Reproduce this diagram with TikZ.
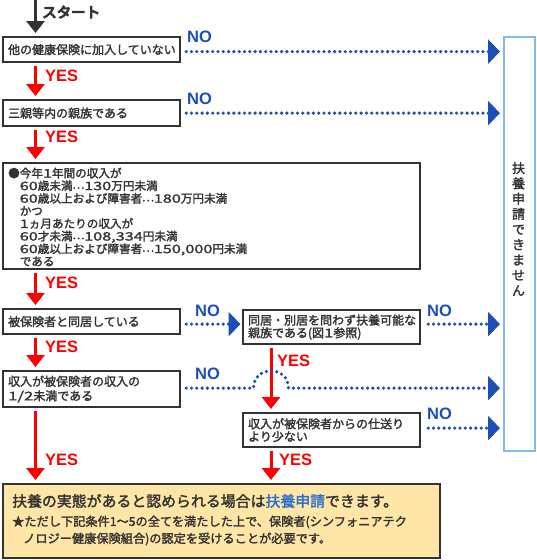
\documentclass[tikz,border=0pt]{standalone}
\usepackage{fontspec}
\setmainfont{Noto Sans CJK JP}[FakeBold=2]
\newfontfamily\jpb{Noto Sans CJK JP}[FakeBold=7]
\newfontfamily\jpdig{Noto Sans CJK JP}[FakeBold=1.5,FakeStretch=1.4]
\newfontfamily\yn{Liberation Sans}
\usetikzlibrary{arrows.meta}
\definecolor{txt}{HTML}{333333}
\definecolor{nob}{HTML}{1C4EB4}
\definecolor{lb}{HTML}{80BBEA}
\definecolor{yel}{HTML}{FFE6A6}
\definecolor{hl}{HTML}{2C6FCC}
\newcommand{\jdots}{\makebox[1em][c]{\raisebox{0.12em}{…}}}
\newcommand{\dg}[1]{{\jpdig #1}}
\begin{document}
\begin{tikzpicture}[x=1pt,y=-1pt,
  box/.style={draw=txt,line width=2.2pt,fill=white,anchor=north west,align=left,inner xsep=5pt,inner ysep=0pt,text=txt,font=\fontsize{12}{12.7}\selectfont},
  yesarr/.style={draw=red,line width=3pt,-{Triangle[length=12pt,width=18pt]},shorten <=3pt,shorten >=3pt},
  startarr/.style={draw=txt,line width=3pt,-{Triangle[length=12pt,width=18pt]},shorten >=3pt},
  noarr/.style={draw=nob,line width=3.6pt,line cap=round,dash pattern=on 0pt off 5.3pt,-{Triangle[length=12pt,width=24pt]},shorten <=5pt},
  yeslbl/.style={text=red,font=\yn\bfseries\fontsize{16.5}{18}\selectfont,anchor=west,inner sep=0pt},
  nolbl/.style={text=nob,font=\yn\bfseries\fontsize{16.5}{18}\selectfont,anchor=west,inner sep=0pt}]
\useasboundingbox (0,0) rectangle (536,560);
\coordinate (cl) at (35.5,0);
\coordinate (cr) at (271,0);
\coordinate (s0) at (35.5,0);

% boxes
\node[box,minimum width=177pt,minimum height=25pt,text width=167pt] (b1) at (2,36) {他の健康保険に加入していない};
\node[box,minimum width=177pt,minimum height=26pt,text width=167pt] (b2) at (2,99) {三親等内の親族である};
\node[box,minimum width=417pt,minimum height=106pt] (b3) at (2,162) {};
\node[anchor=west,align=left,inner sep=0pt,text=txt,font=\fontsize{11.6}{12.6}\selectfont] (b3t) at (8,217) {●今年\dg{1}年間の収入が\\
\hspace*{1em}\dg{60}歳未満\jdots\dg{130}万円未満\\
\hspace*{1em}\dg{60}歳以上および障害者\jdots\dg{180}万円未満\\
\hspace*{1em}かつ\\
\hspace*{1em}\dg{1}ヵ月あたりの収入が\\
\hspace*{1em}\dg{60}才未満\jdots\dg{108,334}円未満\\
\hspace*{1em}\dg{60}歳以上および障害者\jdots\dg{150,000}円未満\\
\hspace*{1em}である};
\node[box,minimum width=177pt,minimum height=25pt,text width=167pt] (b4) at (2,308) {被保険者と同居している};
\node[box,minimum width=177pt,minimum height=36pt,text width=167pt,font=\fontsize{12}{14.5}\selectfont] (b6) at (2,370) {収入が被保険者の収入の\\\dg{1/2}未満である};
\node[box,minimum width=177pt,minimum height=34pt,text width=167pt] (b5) at (242,309) {同居・別居を問わず扶養可能な\\親族である(図\dg{1}参照)};
\node[box,minimum width=177pt,minimum height=34pt,text width=167pt] (b7) at (242,412) {収入が被保険者からの仕送り\\より少ない};
\node[draw=lb,line width=2.2pt,anchor=north west,minimum width=31pt,minimum height=414pt,inner sep=0pt] (R) at (503,36) {};
\node[text=txt,align=center,inner sep=0pt,font=\fontsize{13}{15.3}\selectfont] (Rt) at (518.5,229) {扶\\養\\申\\請\\で\\き\\ま\\せ\\ん};
\node[draw=txt,line width=2.2pt,fill=yel,anchor=north west,minimum width=437pt,minimum height=74pt,inner sep=0pt] (fin) at (2,483) {};
\node[anchor=west,inner sep=0pt,text=txt,font=\fontsize{14.9}{16}\selectfont] (f1) at (12,501) {扶養の実態があると認められる場合は\textcolor{hl}{扶養申請}できます。};
\node[anchor=west,inner sep=0pt,text=txt,font=\fontsize{12.2}{14}\selectfont] (f2) at (12,522) {★ただし下記条件1～5の全てを満たした上で、保険者(シンフォニアテク};
\node[anchor=west,inner sep=0pt,text=txt,font=\fontsize{12.2}{14}\selectfont] (f3) at (23,539) {ノロジー健康保険組合)の認定を受けることが必要です。};

% start
\node[anchor=west,inner sep=0pt,text=txt,font=\jpb\fontsize{14.5}{16}\selectfont] (st) at (42,12) {スタート};
\draw[startarr] (s0) -- (b1.north -| cl);

% YES arrows
\draw[yesarr] (b1.south -| cl) -- (b2.north -| cl);
\draw[yesarr] (b2.south -| cl) -- (b3.north -| cl);
\draw[yesarr] (b3.south -| cl) -- (b4.north -| cl);
\draw[yesarr] (b4.south -| cl) -- (b6.north -| cl);
\draw[yesarr] (b6.south -| cl) -- (fin.north -| cl);
\draw[yesarr] (b5.south -| cr) -- (b7.north -| cr);
\draw[yesarr] (b7.south -| cr) -- (fin.north -| cr);

\node[yeslbl] (y1) at (45,76) {YES};
\node[yeslbl] (y2) at (45,137) {YES};
\node[yeslbl] (y3) at (45,283) {YES};
\node[yeslbl] (y4) at (45,347) {YES};
\node[yeslbl] (y5) at (45,460) {YES};
\node[yeslbl] (y6) at (277,361) {YES};
\node[yeslbl] (y7) at (279,460) {YES};

% NO arrows
\draw[noarr,shorten >=3pt] ([yshift=-2pt]b1.east) -- ([yshift=-2pt]b1.east -| R.west);
\draw[noarr,shorten >=3pt] (b2.east) -- (b2.east -| R.west);
\draw[noarr,shorten >=1.5pt] ([yshift=-2.5pt]b4.east) -- ([yshift=-2.5pt]b4.east -| b5.west);
\draw[noarr,shorten >=3pt,shorten <=7pt] ([yshift=3pt]b5.east) -- ([yshift=3pt]b5.east -| R.west);
\draw[noarr,shorten >=3pt,shorten <=7pt] ([yshift=2pt]b7.east) -- ([yshift=2pt]b7.east -| R.west);
\coordinate (hc) at ([yshift=1pt]b6.east -| cr);
\draw[noarr,shorten >=3pt] ([yshift=1pt]b6.east) -- ([xshift=-17.5pt]hc) .. controls ([xshift=-17.5pt,yshift=23pt]hc) and ([xshift=17.5pt,yshift=23pt]hc) .. ([xshift=17.5pt]hc) -- (hc -| R.west);

\node[nolbl] (n1) at (187,37) {NO};
\node[nolbl] (n2) at (187,99) {NO};
\node[nolbl] (n4) at (195,311) {NO};
\node[nolbl] (n6) at (195,374) {NO};
\node[nolbl] (n5) at (427,311) {NO};
\node[nolbl] (n7) at (427,414) {NO};
\end{tikzpicture}
\end{document}
